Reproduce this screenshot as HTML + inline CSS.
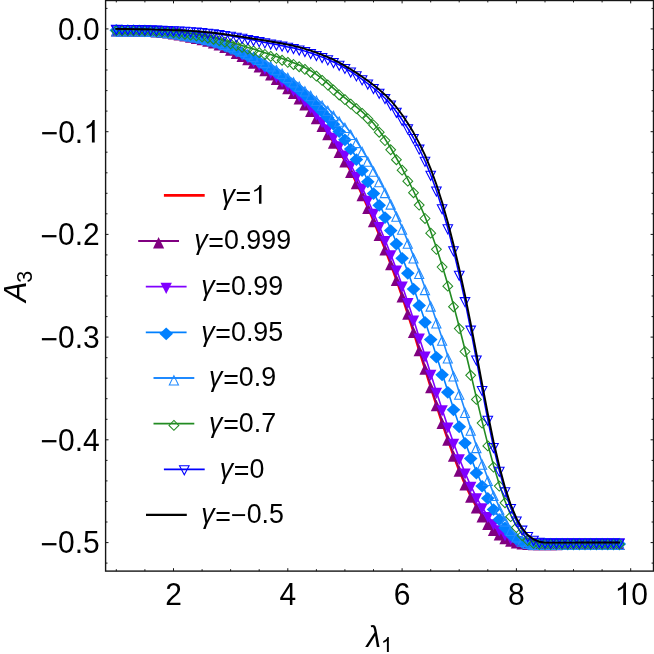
<!DOCTYPE html>
<html><head><meta charset="utf-8"><title>plot</title>
<style>html,body{margin:0;padding:0;background:#fff;overflow:hidden;}svg{display:block;will-change:transform;}text{font-family:"Liberation Sans",sans-serif;fill:#000;}</style></head><body>
<svg width="654" height="654" viewBox="0 0 654 654">
<rect x="0" y="0" width="654" height="654" fill="#ffffff"/>
<polyline points="116.3,29.0 122.1,29.0 127.8,29.0 133.5,29.1 139.2,29.2 144.9,29.3 150.6,29.5 156.4,29.9 162.1,30.4 167.8,31.1 173.5,31.9 179.2,32.9 184.9,34.0 190.6,35.2 196.4,36.5 202.1,37.8 207.8,39.2 213.5,41.0 219.2,43.1 224.9,45.6 230.6,48.4 236.4,51.5 242.1,54.7 247.8,57.9 253.5,61.4 259.2,65.0 264.9,69.0 270.7,73.2 276.4,77.7 282.1,82.2 287.8,86.9 293.5,91.8 299.2,97.2 304.9,103.2 310.7,109.9 316.4,117.2 322.1,125.0 327.8,133.2 333.5,141.9 339.2,151.0 344.9,160.7 350.7,171.1 356.4,182.4 362.1,194.4 367.8,207.2 373.5,220.6 379.2,234.4 385.0,248.8 390.7,263.8 396.4,279.5 402.1,296.1 407.8,313.5 413.5,331.5 419.2,350.0 425.0,368.5 430.7,386.9 436.4,404.9 442.1,422.5 447.8,439.4 453.5,455.3 459.2,470.2 465.0,483.9 470.7,496.0 476.4,506.5 482.1,515.4 487.8,522.7 493.5,528.6 499.3,533.3 505.0,536.8 510.7,539.4 516.4,541.1 522.1,542.0 527.8,542.5 533.5,542.6 539.3,542.6 545.0,542.6 550.7,542.6 556.4,542.5 562.1,542.5 567.8,542.5 573.5,542.5 579.3,542.5 585.0,542.5 590.7,542.5 596.4,542.5 602.1,542.5 607.8,542.5 613.6,542.5 619.3,542.5" fill="none" stroke="#ff0000" stroke-width="2.6" stroke-linejoin="round" stroke-linecap="square"/>
<polyline points="116.3,28.9 122.1,29.0 127.8,29.0 133.5,29.1 139.2,29.1 144.9,29.3 150.6,29.5 156.4,29.9 162.1,30.4 167.8,31.0 173.5,31.9 179.2,32.8 184.9,33.9 190.6,35.1 196.4,36.4 202.1,37.7 207.8,39.1 213.5,40.8 219.2,42.9 224.9,45.4 230.6,48.2 236.4,51.3 242.1,54.4 247.8,57.7 253.5,61.1 259.2,64.8 264.9,68.7 270.7,72.9 276.4,77.4 282.1,81.9 287.8,86.6 293.5,91.5 299.2,96.8 304.9,102.8 310.7,109.4 316.4,116.6 322.1,124.4 327.8,132.6 333.5,141.2 339.2,150.3 344.9,160.0 350.7,170.4 356.4,181.6 362.1,193.6 367.8,206.3 373.5,219.6 379.2,233.4 385.0,247.8 390.7,262.7 396.4,278.4 402.1,294.9 407.8,312.2 413.5,330.3 419.2,348.7 425.0,367.2 430.7,385.6 436.4,403.7 442.1,421.3 447.8,438.2 453.5,454.2 459.2,469.2 465.0,482.9 470.7,495.2 476.4,505.9 482.1,514.9 487.8,522.3 493.5,528.3 499.3,533.0 505.0,536.6 510.7,539.2 516.4,541.0 522.1,542.0 527.8,542.5 533.5,542.6 539.3,542.6 545.0,542.6 550.7,542.6 556.4,542.6 562.1,542.5 567.8,542.5 573.5,542.5 579.3,542.5 585.0,542.5 590.7,542.5 596.4,542.5 602.1,542.5 607.8,542.5 613.6,542.5 619.3,542.5" fill="none" stroke="#800080" stroke-width="1.6" stroke-linejoin="round" stroke-linecap="square"/>
<g><path d="M110.8,36.5L116.3,25.1L121.9,36.5Z" fill="#800080"/><path d="M116.5,36.6L122.1,25.1L127.7,36.6Z" fill="#800080"/><path d="M122.2,36.6L127.8,25.1L133.4,36.6Z" fill="#800080"/><path d="M127.9,36.7L133.5,25.2L139.1,36.7Z" fill="#800080"/><path d="M133.6,36.7L139.2,25.2L144.8,36.7Z" fill="#800080"/><path d="M139.3,36.9L144.9,25.4L150.5,36.9Z" fill="#800080"/><path d="M145.0,37.1L150.6,25.6L156.2,37.1Z" fill="#800080"/><path d="M150.8,37.5L156.4,26.0L162.0,37.5Z" fill="#800080"/><path d="M156.5,38.0L162.1,26.5L167.7,38.0Z" fill="#800080"/><path d="M162.2,38.6L167.8,27.1L173.4,38.6Z" fill="#800080"/><path d="M167.9,39.5L173.5,28.0L179.1,39.5Z" fill="#800080"/><path d="M173.6,40.4L179.2,28.9L184.8,40.4Z" fill="#800080"/><path d="M179.3,41.5L184.9,30.0L190.5,41.5Z" fill="#800080"/><path d="M185.0,42.7L190.6,31.2L196.2,42.7Z" fill="#800080"/><path d="M190.8,44.0L196.4,32.5L202.0,44.0Z" fill="#800080"/><path d="M196.5,45.3L202.1,33.8L207.7,45.3Z" fill="#800080"/><path d="M202.2,46.7L207.8,35.2L213.4,46.7Z" fill="#800080"/><path d="M207.9,48.4L213.5,36.9L219.1,48.4Z" fill="#800080"/><path d="M213.6,50.5L219.2,39.0L224.8,50.5Z" fill="#800080"/><path d="M219.3,53.0L224.9,41.5L230.5,53.0Z" fill="#800080"/><path d="M225.0,55.8L230.6,44.3L236.2,55.8Z" fill="#800080"/><path d="M230.8,58.9L236.4,47.4L242.0,58.9Z" fill="#800080"/><path d="M236.5,62.0L242.1,50.5L247.7,62.0Z" fill="#800080"/><path d="M242.2,65.3L247.8,53.8L253.4,65.3Z" fill="#800080"/><path d="M247.9,68.7L253.5,57.2L259.1,68.7Z" fill="#800080"/><path d="M253.6,72.4L259.2,60.9L264.8,72.4Z" fill="#800080"/><path d="M259.3,76.3L264.9,64.8L270.5,76.3Z" fill="#800080"/><path d="M265.1,80.5L270.7,69.0L276.3,80.5Z" fill="#800080"/><path d="M270.8,85.0L276.4,73.5L282.0,85.0Z" fill="#800080"/><path d="M276.5,89.5L282.1,78.0L287.7,89.5Z" fill="#800080"/><path d="M282.2,94.2L287.8,82.7L293.4,94.2Z" fill="#800080"/><path d="M287.9,99.1L293.5,87.6L299.1,99.1Z" fill="#800080"/><path d="M293.6,104.4L299.2,92.9L304.8,104.4Z" fill="#800080"/><path d="M299.3,110.4L304.9,98.9L310.5,110.4Z" fill="#800080"/><path d="M305.1,117.0L310.7,105.5L316.3,117.0Z" fill="#800080"/><path d="M310.8,124.2L316.4,112.7L322.0,124.2Z" fill="#800080"/><path d="M316.5,132.0L322.1,120.5L327.7,132.0Z" fill="#800080"/><path d="M322.2,140.2L327.8,128.7L333.4,140.2Z" fill="#800080"/><path d="M327.9,148.8L333.5,137.3L339.1,148.8Z" fill="#800080"/><path d="M333.6,157.9L339.2,146.4L344.8,157.9Z" fill="#800080"/><path d="M339.3,167.6L344.9,156.1L350.6,167.6Z" fill="#800080"/><path d="M345.1,178.0L350.7,166.5L356.3,178.0Z" fill="#800080"/><path d="M350.8,189.2L356.4,177.7L362.0,189.2Z" fill="#800080"/><path d="M356.5,201.2L362.1,189.7L367.7,201.2Z" fill="#800080"/><path d="M362.2,213.9L367.8,202.4L373.4,213.9Z" fill="#800080"/><path d="M367.9,227.2L373.5,215.7L379.1,227.2Z" fill="#800080"/><path d="M373.6,241.0L379.2,229.5L384.8,241.0Z" fill="#800080"/><path d="M379.4,255.4L385.0,243.9L390.6,255.4Z" fill="#800080"/><path d="M385.1,270.3L390.7,258.8L396.3,270.3Z" fill="#800080"/><path d="M390.8,286.0L396.4,274.5L402.0,286.0Z" fill="#800080"/><path d="M396.5,302.5L402.1,291.0L407.7,302.5Z" fill="#800080"/><path d="M402.2,319.8L407.8,308.3L413.4,319.8Z" fill="#800080"/><path d="M407.9,337.9L413.5,326.4L419.1,337.9Z" fill="#800080"/><path d="M413.6,356.3L419.2,344.8L424.8,356.3Z" fill="#800080"/><path d="M419.4,374.8L425.0,363.3L430.6,374.8Z" fill="#800080"/><path d="M425.1,393.2L430.7,381.7L436.3,393.2Z" fill="#800080"/><path d="M430.8,411.3L436.4,399.8L442.0,411.3Z" fill="#800080"/><path d="M436.5,428.9L442.1,417.4L447.7,428.9Z" fill="#800080"/><path d="M442.2,445.8L447.8,434.3L453.4,445.8Z" fill="#800080"/><path d="M447.9,461.8L453.5,450.3L459.1,461.8Z" fill="#800080"/><path d="M453.6,476.8L459.2,465.3L464.9,476.8Z" fill="#800080"/><path d="M459.4,490.5L465.0,479.0L470.6,490.5Z" fill="#800080"/><path d="M465.1,502.8L470.7,491.3L476.3,502.8Z" fill="#800080"/><path d="M470.8,513.5L476.4,502.0L482.0,513.5Z" fill="#800080"/><path d="M476.5,522.5L482.1,511.0L487.7,522.5Z" fill="#800080"/><path d="M482.2,529.9L487.8,518.4L493.4,529.9Z" fill="#800080"/><path d="M487.9,535.9L493.5,524.4L499.1,535.9Z" fill="#800080"/><path d="M493.7,540.6L499.3,529.1L504.9,540.6Z" fill="#800080"/><path d="M499.4,544.2L505.0,532.7L510.6,544.2Z" fill="#800080"/><path d="M505.1,546.8L510.7,535.3L516.3,546.8Z" fill="#800080"/><path d="M510.8,548.6L516.4,537.1L522.0,548.6Z" fill="#800080"/><path d="M516.5,549.6L522.1,538.1L527.7,549.6Z" fill="#800080"/><path d="M522.2,550.1L527.8,538.6L533.4,550.1Z" fill="#800080"/><path d="M527.9,550.2L533.5,538.7L539.1,550.2Z" fill="#800080"/><path d="M533.7,550.2L539.3,538.7L544.9,550.2Z" fill="#800080"/><path d="M539.4,550.2L545.0,538.7L550.6,550.2Z" fill="#800080"/><path d="M545.1,550.2L550.7,538.7L556.3,550.2Z" fill="#800080"/><path d="M550.8,550.2L556.4,538.7L562.0,550.2Z" fill="#800080"/><path d="M556.5,550.1L562.1,538.6L567.7,550.1Z" fill="#800080"/><path d="M562.2,550.1L567.8,538.6L573.4,550.1Z" fill="#800080"/><path d="M567.9,550.1L573.5,538.6L579.1,550.1Z" fill="#800080"/><path d="M573.7,550.1L579.3,538.6L584.9,550.1Z" fill="#800080"/><path d="M579.4,550.1L585.0,538.6L590.6,550.1Z" fill="#800080"/><path d="M585.1,550.1L590.7,538.6L596.3,550.1Z" fill="#800080"/><path d="M590.8,550.1L596.4,538.6L602.0,550.1Z" fill="#800080"/><path d="M596.5,550.1L602.1,538.6L607.7,550.1Z" fill="#800080"/><path d="M602.2,550.1L607.8,538.6L613.4,550.1Z" fill="#800080"/><path d="M608.0,550.1L613.6,538.6L619.2,550.1Z" fill="#800080"/><path d="M613.7,550.1L619.3,538.6L624.9,550.1Z" fill="#800080"/></g>
<polyline points="116.3,28.9 122.1,29.0 127.8,29.0 133.5,29.1 139.2,29.1 144.9,29.3 150.6,29.5 156.4,29.9 162.1,30.3 167.8,31.0 173.5,31.8 179.2,32.8 184.9,33.9 190.6,35.0 196.4,36.3 202.1,37.6 207.8,39.0 213.5,40.7 219.2,42.7 224.9,45.1 230.6,47.8 236.4,50.7 242.1,53.7 247.8,56.9 253.5,60.2 259.2,63.7 264.9,67.5 270.7,71.6 276.4,75.9 282.1,80.3 287.8,84.8 293.5,89.6 299.2,94.8 304.9,100.5 310.7,106.8 316.4,113.6 322.1,120.9 327.8,128.6 333.5,136.7 339.2,145.3 344.9,154.6 350.7,164.7 356.4,175.7 362.1,187.4 367.8,199.8 373.5,212.7 379.2,226.0 385.0,239.9 390.7,254.3 396.4,269.4 402.1,285.4 407.8,302.1 413.5,319.6 419.2,337.5 425.0,355.6 430.7,373.8 436.4,391.7 442.1,409.3 447.8,426.4 453.5,442.8 459.2,458.3 465.0,472.6 470.7,485.7 476.4,497.3 482.1,507.3 487.8,515.9 493.5,523.2 499.3,529.2 505.0,534.1 510.7,537.7 516.4,540.1 522.1,541.6 527.8,542.4 533.5,542.6 539.3,542.6 545.0,542.6 550.7,542.6 556.4,542.6 562.1,542.5 567.8,542.5 573.5,542.5 579.3,542.5 585.0,542.5 590.7,542.5 596.4,542.5 602.1,542.5 607.8,542.5 613.6,542.5 619.3,542.5" fill="none" stroke="#8000ff" stroke-width="1.6" stroke-linejoin="round" stroke-linecap="square"/>
<g><path d="M110.6,24.9L122.0,24.9L116.3,36.1Z" fill="#8000ff"/><path d="M116.4,25.0L127.8,25.0L122.1,36.2Z" fill="#8000ff"/><path d="M122.1,25.0L133.5,25.0L127.8,36.2Z" fill="#8000ff"/><path d="M127.8,25.1L139.2,25.1L133.5,36.3Z" fill="#8000ff"/><path d="M133.5,25.1L144.9,25.1L139.2,36.3Z" fill="#8000ff"/><path d="M139.2,25.3L150.6,25.3L144.9,36.5Z" fill="#8000ff"/><path d="M144.9,25.5L156.3,25.5L150.6,36.7Z" fill="#8000ff"/><path d="M150.7,25.9L162.1,25.9L156.4,37.1Z" fill="#8000ff"/><path d="M156.4,26.3L167.8,26.3L162.1,37.5Z" fill="#8000ff"/><path d="M162.1,27.0L173.5,27.0L167.8,38.2Z" fill="#8000ff"/><path d="M167.8,27.8L179.2,27.8L173.5,39.0Z" fill="#8000ff"/><path d="M173.5,28.8L184.9,28.8L179.2,40.0Z" fill="#8000ff"/><path d="M179.2,29.9L190.6,29.9L184.9,41.1Z" fill="#8000ff"/><path d="M184.9,31.0L196.3,31.0L190.6,42.2Z" fill="#8000ff"/><path d="M190.7,32.3L202.1,32.3L196.4,43.5Z" fill="#8000ff"/><path d="M196.4,33.6L207.8,33.6L202.1,44.8Z" fill="#8000ff"/><path d="M202.1,35.0L213.5,35.0L207.8,46.2Z" fill="#8000ff"/><path d="M207.8,36.7L219.2,36.7L213.5,47.9Z" fill="#8000ff"/><path d="M213.5,38.7L224.9,38.7L219.2,49.9Z" fill="#8000ff"/><path d="M219.2,41.1L230.6,41.1L224.9,52.3Z" fill="#8000ff"/><path d="M224.9,43.8L236.3,43.8L230.6,55.0Z" fill="#8000ff"/><path d="M230.7,46.7L242.1,46.7L236.4,57.9Z" fill="#8000ff"/><path d="M236.4,49.7L247.8,49.7L242.1,60.9Z" fill="#8000ff"/><path d="M242.1,52.9L253.5,52.9L247.8,64.1Z" fill="#8000ff"/><path d="M247.8,56.2L259.2,56.2L253.5,67.4Z" fill="#8000ff"/><path d="M253.5,59.7L264.9,59.7L259.2,70.9Z" fill="#8000ff"/><path d="M259.2,63.5L270.6,63.5L264.9,74.7Z" fill="#8000ff"/><path d="M265.0,67.6L276.4,67.6L270.7,78.8Z" fill="#8000ff"/><path d="M270.7,71.9L282.1,71.9L276.4,83.1Z" fill="#8000ff"/><path d="M276.4,76.3L287.8,76.3L282.1,87.5Z" fill="#8000ff"/><path d="M282.1,80.8L293.5,80.8L287.8,92.0Z" fill="#8000ff"/><path d="M287.8,85.6L299.2,85.6L293.5,96.8Z" fill="#8000ff"/><path d="M293.5,90.8L304.9,90.8L299.2,102.0Z" fill="#8000ff"/><path d="M299.2,96.5L310.6,96.5L304.9,107.7Z" fill="#8000ff"/><path d="M305.0,102.8L316.4,102.8L310.7,114.0Z" fill="#8000ff"/><path d="M310.7,109.6L322.1,109.6L316.4,120.8Z" fill="#8000ff"/><path d="M316.4,116.9L327.8,116.9L322.1,128.1Z" fill="#8000ff"/><path d="M322.1,124.6L333.5,124.6L327.8,135.8Z" fill="#8000ff"/><path d="M327.8,132.7L339.2,132.7L333.5,143.9Z" fill="#8000ff"/><path d="M333.5,141.3L344.9,141.3L339.2,152.5Z" fill="#8000ff"/><path d="M339.2,150.6L350.6,150.6L344.9,161.8Z" fill="#8000ff"/><path d="M345.0,160.7L356.4,160.7L350.7,171.9Z" fill="#8000ff"/><path d="M350.7,171.7L362.1,171.7L356.4,182.9Z" fill="#8000ff"/><path d="M356.4,183.4L367.8,183.4L362.1,194.6Z" fill="#8000ff"/><path d="M362.1,195.8L373.5,195.8L367.8,207.0Z" fill="#8000ff"/><path d="M367.8,208.7L379.2,208.7L373.5,219.9Z" fill="#8000ff"/><path d="M373.5,222.0L384.9,222.0L379.2,233.2Z" fill="#8000ff"/><path d="M379.3,235.9L390.7,235.9L385.0,247.1Z" fill="#8000ff"/><path d="M385.0,250.3L396.4,250.3L390.7,261.5Z" fill="#8000ff"/><path d="M390.7,265.4L402.1,265.4L396.4,276.6Z" fill="#8000ff"/><path d="M396.4,281.4L407.8,281.4L402.1,292.6Z" fill="#8000ff"/><path d="M402.1,298.1L413.5,298.1L407.8,309.3Z" fill="#8000ff"/><path d="M407.8,315.6L419.2,315.6L413.5,326.8Z" fill="#8000ff"/><path d="M413.5,333.5L424.9,333.5L419.2,344.7Z" fill="#8000ff"/><path d="M419.3,351.6L430.7,351.6L425.0,362.8Z" fill="#8000ff"/><path d="M425.0,369.8L436.4,369.8L430.7,381.0Z" fill="#8000ff"/><path d="M430.7,387.7L442.1,387.7L436.4,398.9Z" fill="#8000ff"/><path d="M436.4,405.3L447.8,405.3L442.1,416.5Z" fill="#8000ff"/><path d="M442.1,422.4L453.5,422.4L447.8,433.6Z" fill="#8000ff"/><path d="M447.8,438.8L459.2,438.8L453.5,450.0Z" fill="#8000ff"/><path d="M453.6,454.3L464.9,454.3L459.2,465.5Z" fill="#8000ff"/><path d="M459.3,468.6L470.7,468.6L465.0,479.8Z" fill="#8000ff"/><path d="M465.0,481.7L476.4,481.7L470.7,492.9Z" fill="#8000ff"/><path d="M470.7,493.3L482.1,493.3L476.4,504.5Z" fill="#8000ff"/><path d="M476.4,503.3L487.8,503.3L482.1,514.5Z" fill="#8000ff"/><path d="M482.1,511.9L493.5,511.9L487.8,523.1Z" fill="#8000ff"/><path d="M487.8,519.2L499.2,519.2L493.5,530.4Z" fill="#8000ff"/><path d="M493.6,525.2L505.0,525.2L499.3,536.4Z" fill="#8000ff"/><path d="M499.3,530.1L510.7,530.1L505.0,541.3Z" fill="#8000ff"/><path d="M505.0,533.7L516.4,533.7L510.7,544.9Z" fill="#8000ff"/><path d="M510.7,536.1L522.1,536.1L516.4,547.3Z" fill="#8000ff"/><path d="M516.4,537.6L527.8,537.6L522.1,548.8Z" fill="#8000ff"/><path d="M522.1,538.4L533.5,538.4L527.8,549.6Z" fill="#8000ff"/><path d="M527.8,538.6L539.2,538.6L533.5,549.8Z" fill="#8000ff"/><path d="M533.6,538.6L545.0,538.6L539.3,549.8Z" fill="#8000ff"/><path d="M539.3,538.6L550.7,538.6L545.0,549.8Z" fill="#8000ff"/><path d="M545.0,538.6L556.4,538.6L550.7,549.8Z" fill="#8000ff"/><path d="M550.7,538.6L562.1,538.6L556.4,549.8Z" fill="#8000ff"/><path d="M556.4,538.5L567.8,538.5L562.1,549.7Z" fill="#8000ff"/><path d="M562.1,538.5L573.5,538.5L567.8,549.7Z" fill="#8000ff"/><path d="M567.8,538.5L579.2,538.5L573.5,549.7Z" fill="#8000ff"/><path d="M573.6,538.5L585.0,538.5L579.3,549.7Z" fill="#8000ff"/><path d="M579.3,538.5L590.7,538.5L585.0,549.7Z" fill="#8000ff"/><path d="M585.0,538.5L596.4,538.5L590.7,549.7Z" fill="#8000ff"/><path d="M590.7,538.5L602.1,538.5L596.4,549.7Z" fill="#8000ff"/><path d="M596.4,538.5L607.8,538.5L602.1,549.7Z" fill="#8000ff"/><path d="M602.1,538.5L613.5,538.5L607.8,549.7Z" fill="#8000ff"/><path d="M607.9,538.5L619.3,538.5L613.6,549.7Z" fill="#8000ff"/><path d="M613.6,538.5L625.0,538.5L619.3,549.7Z" fill="#8000ff"/></g>
<polyline points="116.3,28.9 122.1,29.0 127.8,29.0 133.5,29.1 139.2,29.2 144.9,29.3 150.6,29.5 156.4,29.8 162.1,30.2 167.8,30.9 173.5,31.6 179.2,32.6 184.9,33.7 190.6,34.8 196.4,36.0 202.1,37.3 207.8,38.6 213.5,40.2 219.2,42.1 224.9,44.2 230.6,46.5 236.4,49.0 242.1,51.6 247.8,54.4 253.5,57.4 259.2,60.6 264.9,64.0 270.7,67.6 276.4,71.3 282.1,75.3 287.8,79.5 293.5,83.9 299.2,88.6 304.9,93.6 310.7,98.9 316.4,104.5 322.1,110.3 327.8,116.4 333.5,122.9 339.2,130.2 344.9,138.4 350.7,147.7 356.4,158.0 362.1,169.0 367.8,180.4 373.5,192.1 379.2,203.9 385.0,216.1 390.7,229.0 396.4,242.5 402.1,256.8 407.8,271.9 413.5,287.6 419.2,304.0 425.0,320.9 430.7,338.2 436.4,355.7 442.1,373.3 447.8,390.9 453.5,408.4 459.2,425.4 465.0,441.7 470.7,457.1 476.4,471.5 482.1,484.7 487.8,496.9 493.5,508.1 499.3,518.0 505.0,526.4 510.7,533.0 516.4,537.6 522.1,540.5 527.8,542.1 533.5,542.6 539.3,542.6 545.0,542.6 550.7,542.6 556.4,542.6 562.1,542.5 567.8,542.5 573.5,542.5 579.3,542.5 585.0,542.5 590.7,542.5 596.4,542.5 602.1,542.5 607.8,542.5 613.6,542.5 619.3,542.5" fill="none" stroke="#0080ff" stroke-width="1.6" stroke-linejoin="round" stroke-linecap="square"/>
<g><path d="M116.3,24.1L123.1,30.3L116.3,36.9L109.5,30.3Z" fill="#0080ff"/><path d="M122.1,24.2L128.9,30.4L122.1,36.9L115.3,30.4Z" fill="#0080ff"/><path d="M127.8,24.2L134.6,30.4L127.8,36.9L121.0,30.4Z" fill="#0080ff"/><path d="M133.5,24.3L140.3,30.5L133.5,37.0L126.7,30.5Z" fill="#0080ff"/><path d="M139.2,24.4L146.0,30.6L139.2,37.1L132.4,30.6Z" fill="#0080ff"/><path d="M144.9,24.5L151.7,30.7L144.9,37.2L138.1,30.7Z" fill="#0080ff"/><path d="M150.6,24.7L157.4,30.9L150.6,37.4L143.8,30.9Z" fill="#0080ff"/><path d="M156.4,25.0L163.2,31.2L156.4,37.7L149.6,31.2Z" fill="#0080ff"/><path d="M162.1,25.4L168.9,31.6L162.1,38.1L155.3,31.6Z" fill="#0080ff"/><path d="M167.8,26.1L174.6,32.3L167.8,38.8L161.0,32.3Z" fill="#0080ff"/><path d="M173.5,26.8L180.3,33.0L173.5,39.5L166.7,33.0Z" fill="#0080ff"/><path d="M179.2,27.8L186.0,34.0L179.2,40.5L172.4,34.0Z" fill="#0080ff"/><path d="M184.9,28.9L191.7,35.1L184.9,41.6L178.1,35.1Z" fill="#0080ff"/><path d="M190.6,30.0L197.4,36.2L190.6,42.7L183.8,36.2Z" fill="#0080ff"/><path d="M196.4,31.2L203.2,37.4L196.4,43.9L189.6,37.4Z" fill="#0080ff"/><path d="M202.1,32.5L208.9,38.7L202.1,45.2L195.3,38.7Z" fill="#0080ff"/><path d="M207.8,33.8L214.6,40.0L207.8,46.5L201.0,40.0Z" fill="#0080ff"/><path d="M213.5,35.4L220.3,41.6L213.5,48.1L206.7,41.6Z" fill="#0080ff"/><path d="M219.2,37.3L226.0,43.5L219.2,50.0L212.4,43.5Z" fill="#0080ff"/><path d="M224.9,39.4L231.7,45.6L224.9,52.1L218.1,45.6Z" fill="#0080ff"/><path d="M230.6,41.7L237.4,47.9L230.6,54.4L223.8,47.9Z" fill="#0080ff"/><path d="M236.4,44.2L243.2,50.4L236.4,56.9L229.6,50.4Z" fill="#0080ff"/><path d="M242.1,46.8L248.9,53.0L242.1,59.5L235.3,53.0Z" fill="#0080ff"/><path d="M247.8,49.6L254.6,55.8L247.8,62.3L241.0,55.8Z" fill="#0080ff"/><path d="M253.5,52.6L260.3,58.8L253.5,65.3L246.7,58.8Z" fill="#0080ff"/><path d="M259.2,55.8L266.0,62.0L259.2,68.5L252.4,62.0Z" fill="#0080ff"/><path d="M264.9,59.2L271.7,65.4L264.9,71.9L258.1,65.4Z" fill="#0080ff"/><path d="M270.7,62.8L277.5,69.0L270.7,75.5L263.9,69.0Z" fill="#0080ff"/><path d="M276.4,66.5L283.2,72.7L276.4,79.2L269.6,72.7Z" fill="#0080ff"/><path d="M282.1,70.5L288.9,76.7L282.1,83.2L275.3,76.7Z" fill="#0080ff"/><path d="M287.8,74.7L294.6,80.9L287.8,87.4L281.0,80.9Z" fill="#0080ff"/><path d="M293.5,79.1L300.3,85.3L293.5,91.8L286.7,85.3Z" fill="#0080ff"/><path d="M299.2,83.8L306.0,90.0L299.2,96.5L292.4,90.0Z" fill="#0080ff"/><path d="M304.9,88.8L311.7,95.0L304.9,101.5L298.1,95.0Z" fill="#0080ff"/><path d="M310.7,94.1L317.5,100.3L310.7,106.8L303.9,100.3Z" fill="#0080ff"/><path d="M316.4,99.7L323.2,105.9L316.4,112.4L309.6,105.9Z" fill="#0080ff"/><path d="M322.1,105.5L328.9,111.7L322.1,118.2L315.3,111.7Z" fill="#0080ff"/><path d="M327.8,111.6L334.6,117.8L327.8,124.3L321.0,117.8Z" fill="#0080ff"/><path d="M333.5,118.1L340.3,124.3L333.5,130.8L326.7,124.3Z" fill="#0080ff"/><path d="M339.2,125.4L346.0,131.6L339.2,138.1L332.4,131.6Z" fill="#0080ff"/><path d="M344.9,133.6L351.8,139.8L344.9,146.3L338.1,139.8Z" fill="#0080ff"/><path d="M350.7,142.9L357.5,149.1L350.7,155.6L343.9,149.1Z" fill="#0080ff"/><path d="M356.4,153.2L363.2,159.4L356.4,165.9L349.6,159.4Z" fill="#0080ff"/><path d="M362.1,164.2L368.9,170.4L362.1,176.9L355.3,170.4Z" fill="#0080ff"/><path d="M367.8,175.6L374.6,181.8L367.8,188.3L361.0,181.8Z" fill="#0080ff"/><path d="M373.5,187.3L380.3,193.5L373.5,200.0L366.7,193.5Z" fill="#0080ff"/><path d="M379.2,199.1L386.0,205.3L379.2,211.8L372.4,205.3Z" fill="#0080ff"/><path d="M385.0,211.3L391.8,217.5L385.0,224.0L378.2,217.5Z" fill="#0080ff"/><path d="M390.7,224.2L397.5,230.4L390.7,236.9L383.9,230.4Z" fill="#0080ff"/><path d="M396.4,237.7L403.2,243.9L396.4,250.4L389.6,243.9Z" fill="#0080ff"/><path d="M402.1,252.0L408.9,258.2L402.1,264.7L395.3,258.2Z" fill="#0080ff"/><path d="M407.8,267.1L414.6,273.3L407.8,279.8L401.0,273.3Z" fill="#0080ff"/><path d="M413.5,282.8L420.3,289.0L413.5,295.5L406.7,289.0Z" fill="#0080ff"/><path d="M419.2,299.2L426.0,305.4L419.2,311.9L412.4,305.4Z" fill="#0080ff"/><path d="M425.0,316.1L431.8,322.3L425.0,328.8L418.2,322.3Z" fill="#0080ff"/><path d="M430.7,333.4L437.5,339.6L430.7,346.1L423.9,339.6Z" fill="#0080ff"/><path d="M436.4,350.9L443.2,357.1L436.4,363.6L429.6,357.1Z" fill="#0080ff"/><path d="M442.1,368.5L448.9,374.7L442.1,381.2L435.3,374.7Z" fill="#0080ff"/><path d="M447.8,386.1L454.6,392.3L447.8,398.8L441.0,392.3Z" fill="#0080ff"/><path d="M453.5,403.6L460.3,409.8L453.5,416.3L446.7,409.8Z" fill="#0080ff"/><path d="M459.2,420.6L466.1,426.8L459.2,433.3L452.4,426.8Z" fill="#0080ff"/><path d="M465.0,436.9L471.8,443.1L465.0,449.6L458.2,443.1Z" fill="#0080ff"/><path d="M470.7,452.3L477.5,458.5L470.7,465.0L463.9,458.5Z" fill="#0080ff"/><path d="M476.4,466.7L483.2,472.9L476.4,479.4L469.6,472.9Z" fill="#0080ff"/><path d="M482.1,479.9L488.9,486.1L482.1,492.6L475.3,486.1Z" fill="#0080ff"/><path d="M487.8,492.1L494.6,498.3L487.8,504.8L481.0,498.3Z" fill="#0080ff"/><path d="M493.5,503.3L500.3,509.5L493.5,516.0L486.7,509.5Z" fill="#0080ff"/><path d="M499.3,513.2L506.1,519.4L499.3,525.9L492.5,519.4Z" fill="#0080ff"/><path d="M505.0,521.6L511.8,527.8L505.0,534.3L498.2,527.8Z" fill="#0080ff"/><path d="M510.7,528.2L517.5,534.4L510.7,540.9L503.9,534.4Z" fill="#0080ff"/><path d="M516.4,532.8L523.2,539.0L516.4,545.5L509.6,539.0Z" fill="#0080ff"/><path d="M522.1,535.7L528.9,541.9L522.1,548.4L515.3,541.9Z" fill="#0080ff"/><path d="M527.8,537.3L534.6,543.5L527.8,550.0L521.0,543.5Z" fill="#0080ff"/><path d="M533.5,537.8L540.3,544.0L533.5,550.5L526.7,544.0Z" fill="#0080ff"/><path d="M539.3,537.8L546.1,544.0L539.3,550.5L532.5,544.0Z" fill="#0080ff"/><path d="M545.0,537.8L551.8,544.0L545.0,550.5L538.2,544.0Z" fill="#0080ff"/><path d="M550.7,537.8L557.5,544.0L550.7,550.5L543.9,544.0Z" fill="#0080ff"/><path d="M556.4,537.8L563.2,544.0L556.4,550.5L549.6,544.0Z" fill="#0080ff"/><path d="M562.1,537.7L568.9,543.9L562.1,550.4L555.3,543.9Z" fill="#0080ff"/><path d="M567.8,537.7L574.6,543.9L567.8,550.4L561.0,543.9Z" fill="#0080ff"/><path d="M573.5,537.7L580.3,543.9L573.5,550.4L566.8,543.9Z" fill="#0080ff"/><path d="M579.3,537.7L586.1,543.9L579.3,550.4L572.5,543.9Z" fill="#0080ff"/><path d="M585.0,537.7L591.8,543.9L585.0,550.4L578.2,543.9Z" fill="#0080ff"/><path d="M590.7,537.7L597.5,543.9L590.7,550.4L583.9,543.9Z" fill="#0080ff"/><path d="M596.4,537.7L603.2,543.9L596.4,550.4L589.6,543.9Z" fill="#0080ff"/><path d="M602.1,537.7L608.9,543.9L602.1,550.4L595.3,543.9Z" fill="#0080ff"/><path d="M607.8,537.7L614.6,543.9L607.8,550.4L601.0,543.9Z" fill="#0080ff"/><path d="M613.6,537.7L620.4,543.9L613.6,550.4L606.8,543.9Z" fill="#0080ff"/><path d="M619.3,537.7L626.1,543.9L619.3,550.4L612.5,543.9Z" fill="#0080ff"/></g>
<polyline points="116.3,28.9 122.1,29.0 127.8,29.0 133.5,29.0 139.2,29.1 144.9,29.2 150.6,29.4 156.4,29.7 162.1,30.1 167.8,30.7 173.5,31.4 179.2,32.2 184.9,33.2 190.6,34.2 196.4,35.2 202.1,36.4 207.8,37.7 213.5,39.1 219.2,40.8 224.9,42.7 230.6,44.8 236.4,47.1 242.1,49.4 247.8,52.0 253.5,54.7 259.2,57.6 264.9,60.7 270.7,64.1 276.4,67.8 282.1,71.6 287.8,75.7 293.5,80.0 299.2,84.4 304.9,89.0 310.7,93.7 316.4,98.5 322.1,103.4 327.8,108.5 333.5,113.7 339.2,119.3 344.9,125.5 350.7,132.6 356.4,140.7 362.1,149.7 367.8,159.3 373.5,169.4 379.2,179.9 385.0,190.7 390.7,202.2 396.4,214.4 402.1,227.4 407.8,241.4 413.5,256.1 419.2,271.6 425.0,287.7 430.7,304.2 436.4,321.0 442.1,338.3 447.8,356.0 453.5,374.0 459.2,392.3 465.0,410.5 470.7,428.3 476.4,445.7 482.1,462.4 487.8,478.5 493.5,493.6 499.3,507.4 505.0,519.2 510.7,528.5 516.4,535.1 522.1,539.3 527.8,541.6 533.5,542.6 539.3,542.6 545.0,542.6 550.7,542.6 556.4,542.6 562.1,542.5 567.8,542.5 573.5,542.5 579.3,542.5 585.0,542.5 590.7,542.5 596.4,542.5 602.1,542.5 607.8,542.5 613.6,542.5 619.3,542.5" fill="none" stroke="#1f8aff" stroke-width="1.6" stroke-linejoin="round" stroke-linecap="square"/>
<g><path d="M111.8,35.9L116.3,26.6L120.9,35.9Z" fill="none" stroke="#1f8aff" stroke-width="1.05"/><path d="M117.5,35.9L122.1,26.6L126.7,35.9Z" fill="none" stroke="#1f8aff" stroke-width="1.05"/><path d="M123.2,35.9L127.8,26.6L132.4,35.9Z" fill="none" stroke="#1f8aff" stroke-width="1.05"/><path d="M128.9,35.9L133.5,26.6L138.1,35.9Z" fill="none" stroke="#1f8aff" stroke-width="1.05"/><path d="M134.6,36.0L139.2,26.7L143.8,36.0Z" fill="none" stroke="#1f8aff" stroke-width="1.05"/><path d="M140.3,36.1L144.9,26.8L149.5,36.1Z" fill="none" stroke="#1f8aff" stroke-width="1.05"/><path d="M146.0,36.3L150.6,27.0L155.2,36.3Z" fill="none" stroke="#1f8aff" stroke-width="1.05"/><path d="M151.8,36.6L156.4,27.3L161.0,36.6Z" fill="none" stroke="#1f8aff" stroke-width="1.05"/><path d="M157.5,37.0L162.1,27.7L166.7,37.0Z" fill="none" stroke="#1f8aff" stroke-width="1.05"/><path d="M163.2,37.6L167.8,28.3L172.4,37.6Z" fill="none" stroke="#1f8aff" stroke-width="1.05"/><path d="M168.9,38.3L173.5,29.0L178.1,38.3Z" fill="none" stroke="#1f8aff" stroke-width="1.05"/><path d="M174.6,39.1L179.2,29.8L183.8,39.1Z" fill="none" stroke="#1f8aff" stroke-width="1.05"/><path d="M180.3,40.1L184.9,30.8L189.5,40.1Z" fill="none" stroke="#1f8aff" stroke-width="1.05"/><path d="M186.0,41.1L190.6,31.8L195.2,41.1Z" fill="none" stroke="#1f8aff" stroke-width="1.05"/><path d="M191.8,42.1L196.4,32.8L201.0,42.1Z" fill="none" stroke="#1f8aff" stroke-width="1.05"/><path d="M197.5,43.3L202.1,34.0L206.7,43.3Z" fill="none" stroke="#1f8aff" stroke-width="1.05"/><path d="M203.2,44.6L207.8,35.3L212.4,44.6Z" fill="none" stroke="#1f8aff" stroke-width="1.05"/><path d="M208.9,46.0L213.5,36.7L218.1,46.0Z" fill="none" stroke="#1f8aff" stroke-width="1.05"/><path d="M214.6,47.7L219.2,38.4L223.8,47.7Z" fill="none" stroke="#1f8aff" stroke-width="1.05"/><path d="M220.3,49.6L224.9,40.3L229.5,49.6Z" fill="none" stroke="#1f8aff" stroke-width="1.05"/><path d="M226.0,51.7L230.6,42.4L235.2,51.7Z" fill="none" stroke="#1f8aff" stroke-width="1.05"/><path d="M231.8,54.0L236.4,44.7L241.0,54.0Z" fill="none" stroke="#1f8aff" stroke-width="1.05"/><path d="M237.5,56.3L242.1,47.0L246.7,56.3Z" fill="none" stroke="#1f8aff" stroke-width="1.05"/><path d="M243.2,58.9L247.8,49.6L252.4,58.9Z" fill="none" stroke="#1f8aff" stroke-width="1.05"/><path d="M248.9,61.6L253.5,52.3L258.1,61.6Z" fill="none" stroke="#1f8aff" stroke-width="1.05"/><path d="M254.6,64.5L259.2,55.2L263.8,64.5Z" fill="none" stroke="#1f8aff" stroke-width="1.05"/><path d="M260.3,67.6L264.9,58.3L269.5,67.6Z" fill="none" stroke="#1f8aff" stroke-width="1.05"/><path d="M266.1,71.0L270.7,61.7L275.3,71.0Z" fill="none" stroke="#1f8aff" stroke-width="1.05"/><path d="M271.8,74.7L276.4,65.4L281.0,74.7Z" fill="none" stroke="#1f8aff" stroke-width="1.05"/><path d="M277.5,78.5L282.1,69.2L286.7,78.5Z" fill="none" stroke="#1f8aff" stroke-width="1.05"/><path d="M283.2,82.6L287.8,73.3L292.4,82.6Z" fill="none" stroke="#1f8aff" stroke-width="1.05"/><path d="M288.9,86.9L293.5,77.6L298.1,86.9Z" fill="none" stroke="#1f8aff" stroke-width="1.05"/><path d="M294.6,91.3L299.2,82.0L303.8,91.3Z" fill="none" stroke="#1f8aff" stroke-width="1.05"/><path d="M300.3,95.9L304.9,86.6L309.5,95.9Z" fill="none" stroke="#1f8aff" stroke-width="1.05"/><path d="M306.1,100.6L310.7,91.3L315.3,100.6Z" fill="none" stroke="#1f8aff" stroke-width="1.05"/><path d="M311.8,105.4L316.4,96.1L321.0,105.4Z" fill="none" stroke="#1f8aff" stroke-width="1.05"/><path d="M317.5,110.3L322.1,101.0L326.7,110.3Z" fill="none" stroke="#1f8aff" stroke-width="1.05"/><path d="M323.2,115.4L327.8,106.1L332.4,115.4Z" fill="none" stroke="#1f8aff" stroke-width="1.05"/><path d="M328.9,120.6L333.5,111.3L338.1,120.6Z" fill="none" stroke="#1f8aff" stroke-width="1.05"/><path d="M334.6,126.2L339.2,116.9L343.8,126.2Z" fill="none" stroke="#1f8aff" stroke-width="1.05"/><path d="M340.3,132.4L344.9,123.1L349.6,132.4Z" fill="none" stroke="#1f8aff" stroke-width="1.05"/><path d="M346.1,139.5L350.7,130.2L355.3,139.5Z" fill="none" stroke="#1f8aff" stroke-width="1.05"/><path d="M351.8,147.6L356.4,138.3L361.0,147.6Z" fill="none" stroke="#1f8aff" stroke-width="1.05"/><path d="M357.5,156.6L362.1,147.3L366.7,156.6Z" fill="none" stroke="#1f8aff" stroke-width="1.05"/><path d="M363.2,166.2L367.8,156.9L372.4,166.2Z" fill="none" stroke="#1f8aff" stroke-width="1.05"/><path d="M368.9,176.3L373.5,167.0L378.1,176.3Z" fill="none" stroke="#1f8aff" stroke-width="1.05"/><path d="M374.6,186.8L379.2,177.5L383.8,186.8Z" fill="none" stroke="#1f8aff" stroke-width="1.05"/><path d="M380.4,197.6L385.0,188.3L389.6,197.6Z" fill="none" stroke="#1f8aff" stroke-width="1.05"/><path d="M386.1,209.1L390.7,199.8L395.3,209.1Z" fill="none" stroke="#1f8aff" stroke-width="1.05"/><path d="M391.8,221.3L396.4,212.0L401.0,221.3Z" fill="none" stroke="#1f8aff" stroke-width="1.05"/><path d="M397.5,234.3L402.1,225.0L406.7,234.3Z" fill="none" stroke="#1f8aff" stroke-width="1.05"/><path d="M403.2,248.3L407.8,239.0L412.4,248.3Z" fill="none" stroke="#1f8aff" stroke-width="1.05"/><path d="M408.9,263.0L413.5,253.7L418.1,263.0Z" fill="none" stroke="#1f8aff" stroke-width="1.05"/><path d="M414.6,278.5L419.2,269.2L423.8,278.5Z" fill="none" stroke="#1f8aff" stroke-width="1.05"/><path d="M420.4,294.6L425.0,285.3L429.6,294.6Z" fill="none" stroke="#1f8aff" stroke-width="1.05"/><path d="M426.1,311.1L430.7,301.8L435.3,311.1Z" fill="none" stroke="#1f8aff" stroke-width="1.05"/><path d="M431.8,327.9L436.4,318.6L441.0,327.9Z" fill="none" stroke="#1f8aff" stroke-width="1.05"/><path d="M437.5,345.2L442.1,335.9L446.7,345.2Z" fill="none" stroke="#1f8aff" stroke-width="1.05"/><path d="M443.2,362.9L447.8,353.6L452.4,362.9Z" fill="none" stroke="#1f8aff" stroke-width="1.05"/><path d="M448.9,380.9L453.5,371.6L458.1,380.9Z" fill="none" stroke="#1f8aff" stroke-width="1.05"/><path d="M454.6,399.2L459.2,389.9L463.9,399.2Z" fill="none" stroke="#1f8aff" stroke-width="1.05"/><path d="M460.4,417.4L465.0,408.1L469.6,417.4Z" fill="none" stroke="#1f8aff" stroke-width="1.05"/><path d="M466.1,435.2L470.7,425.9L475.3,435.2Z" fill="none" stroke="#1f8aff" stroke-width="1.05"/><path d="M471.8,452.6L476.4,443.3L481.0,452.6Z" fill="none" stroke="#1f8aff" stroke-width="1.05"/><path d="M477.5,469.3L482.1,460.0L486.7,469.3Z" fill="none" stroke="#1f8aff" stroke-width="1.05"/><path d="M483.2,485.4L487.8,476.1L492.4,485.4Z" fill="none" stroke="#1f8aff" stroke-width="1.05"/><path d="M488.9,500.5L493.5,491.2L498.1,500.5Z" fill="none" stroke="#1f8aff" stroke-width="1.05"/><path d="M494.7,514.3L499.3,505.0L503.9,514.3Z" fill="none" stroke="#1f8aff" stroke-width="1.05"/><path d="M500.4,526.1L505.0,516.8L509.6,526.1Z" fill="none" stroke="#1f8aff" stroke-width="1.05"/><path d="M506.1,535.4L510.7,526.1L515.3,535.4Z" fill="none" stroke="#1f8aff" stroke-width="1.05"/><path d="M511.8,542.0L516.4,532.7L521.0,542.0Z" fill="none" stroke="#1f8aff" stroke-width="1.05"/><path d="M517.5,546.2L522.1,536.9L526.7,546.2Z" fill="none" stroke="#1f8aff" stroke-width="1.05"/><path d="M523.2,548.5L527.8,539.2L532.4,548.5Z" fill="none" stroke="#1f8aff" stroke-width="1.05"/><path d="M528.9,549.5L533.5,540.2L538.1,549.5Z" fill="none" stroke="#1f8aff" stroke-width="1.05"/><path d="M534.7,549.5L539.3,540.2L543.9,549.5Z" fill="none" stroke="#1f8aff" stroke-width="1.05"/><path d="M540.4,549.5L545.0,540.2L549.6,549.5Z" fill="none" stroke="#1f8aff" stroke-width="1.05"/><path d="M546.1,549.5L550.7,540.2L555.3,549.5Z" fill="none" stroke="#1f8aff" stroke-width="1.05"/><path d="M551.8,549.5L556.4,540.2L561.0,549.5Z" fill="none" stroke="#1f8aff" stroke-width="1.05"/><path d="M557.5,549.4L562.1,540.1L566.7,549.4Z" fill="none" stroke="#1f8aff" stroke-width="1.05"/><path d="M563.2,549.4L567.8,540.1L572.4,549.4Z" fill="none" stroke="#1f8aff" stroke-width="1.05"/><path d="M568.9,549.4L573.5,540.1L578.1,549.4Z" fill="none" stroke="#1f8aff" stroke-width="1.05"/><path d="M574.7,549.4L579.3,540.1L583.9,549.4Z" fill="none" stroke="#1f8aff" stroke-width="1.05"/><path d="M580.4,549.4L585.0,540.1L589.6,549.4Z" fill="none" stroke="#1f8aff" stroke-width="1.05"/><path d="M586.1,549.4L590.7,540.1L595.3,549.4Z" fill="none" stroke="#1f8aff" stroke-width="1.05"/><path d="M591.8,549.4L596.4,540.1L601.0,549.4Z" fill="none" stroke="#1f8aff" stroke-width="1.05"/><path d="M597.5,549.4L602.1,540.1L606.7,549.4Z" fill="none" stroke="#1f8aff" stroke-width="1.05"/><path d="M603.2,549.4L607.8,540.1L612.4,549.4Z" fill="none" stroke="#1f8aff" stroke-width="1.05"/><path d="M609.0,549.4L613.6,540.1L618.2,549.4Z" fill="none" stroke="#1f8aff" stroke-width="1.05"/><path d="M614.7,549.4L619.3,540.1L623.9,549.4Z" fill="none" stroke="#1f8aff" stroke-width="1.05"/></g>
<polyline points="116.3,28.9 122.1,29.0 127.8,29.0 133.5,29.0 139.2,29.1 144.9,29.2 150.6,29.4 156.4,29.7 162.1,30.1 167.8,30.6 173.5,31.1 179.2,31.8 184.9,32.5 190.6,33.3 196.4,34.1 202.1,35.1 207.8,36.2 213.5,37.5 219.2,38.9 224.9,40.4 230.6,42.1 236.4,43.8 242.1,45.6 247.8,47.4 253.5,49.1 259.2,50.9 264.9,52.7 270.7,54.6 276.4,56.6 282.1,58.5 287.8,60.6 293.5,62.7 299.2,65.0 304.9,67.6 310.7,70.7 316.4,74.4 322.1,78.6 327.8,83.3 333.5,88.3 339.2,93.2 344.9,97.9 350.7,102.4 356.4,106.9 362.1,111.6 367.8,117.0 373.5,123.2 379.2,130.5 385.0,138.8 390.7,148.0 396.4,158.0 402.1,168.4 407.8,179.4 413.5,191.0 419.2,203.3 425.0,216.7 430.7,231.4 436.4,247.6 442.1,265.3 447.8,284.4 453.5,305.0 459.2,326.8 465.0,349.8 470.7,373.5 476.4,397.6 482.1,421.4 487.8,444.1 493.5,465.3 499.3,484.4 505.0,501.0 510.7,514.9 516.4,525.9 522.1,533.8 527.8,538.8 533.5,541.6 539.3,542.6 545.0,542.6 550.7,542.6 556.4,542.6 562.1,542.6 567.8,542.5 573.5,542.5 579.3,542.5 585.0,542.5 590.7,542.5 596.4,542.5 602.1,542.5 607.8,542.5 613.6,542.5 619.3,542.5" fill="none" stroke="#228b22" stroke-width="1.6" stroke-linejoin="round" stroke-linecap="square"/>
<g><path d="M116.3,25.8L121.2,30.7L116.3,35.6L111.4,30.7Z" fill="none" stroke="#228b22" stroke-width="1.05"/><path d="M122.1,25.8L127.0,30.7L122.1,35.7L117.2,30.7Z" fill="none" stroke="#228b22" stroke-width="1.05"/><path d="M127.8,25.8L132.7,30.7L127.8,35.7L122.9,30.7Z" fill="none" stroke="#228b22" stroke-width="1.05"/><path d="M133.5,25.8L138.4,30.8L133.5,35.7L128.6,30.8Z" fill="none" stroke="#228b22" stroke-width="1.05"/><path d="M139.2,25.9L144.1,30.8L139.2,35.8L134.3,30.8Z" fill="none" stroke="#228b22" stroke-width="1.05"/><path d="M144.9,26.0L149.8,30.9L144.9,35.9L140.0,30.9Z" fill="none" stroke="#228b22" stroke-width="1.05"/><path d="M150.6,26.2L155.5,31.1L150.6,36.1L145.7,31.1Z" fill="none" stroke="#228b22" stroke-width="1.05"/><path d="M156.4,26.5L161.3,31.4L156.4,36.4L151.5,31.4Z" fill="none" stroke="#228b22" stroke-width="1.05"/><path d="M162.1,26.9L167.0,31.8L162.1,36.8L157.2,31.8Z" fill="none" stroke="#228b22" stroke-width="1.05"/><path d="M167.8,27.4L172.7,32.3L167.8,37.3L162.9,32.3Z" fill="none" stroke="#228b22" stroke-width="1.05"/><path d="M173.5,27.9L178.4,32.9L173.5,37.8L168.6,32.9Z" fill="none" stroke="#228b22" stroke-width="1.05"/><path d="M179.2,28.6L184.1,33.5L179.2,38.5L174.3,33.5Z" fill="none" stroke="#228b22" stroke-width="1.05"/><path d="M184.9,29.3L189.8,34.2L184.9,39.2L180.0,34.2Z" fill="none" stroke="#228b22" stroke-width="1.05"/><path d="M190.6,30.1L195.5,35.0L190.6,40.0L185.7,35.0Z" fill="none" stroke="#228b22" stroke-width="1.05"/><path d="M196.4,30.9L201.3,35.9L196.4,40.8L191.5,35.9Z" fill="none" stroke="#228b22" stroke-width="1.05"/><path d="M202.1,31.9L207.0,36.9L202.1,41.8L197.2,36.9Z" fill="none" stroke="#228b22" stroke-width="1.05"/><path d="M207.8,33.0L212.7,38.0L207.8,42.9L202.9,38.0Z" fill="none" stroke="#228b22" stroke-width="1.05"/><path d="M213.5,34.3L218.4,39.2L213.5,44.2L208.6,39.2Z" fill="none" stroke="#228b22" stroke-width="1.05"/><path d="M219.2,35.7L224.1,40.6L219.2,45.6L214.3,40.6Z" fill="none" stroke="#228b22" stroke-width="1.05"/><path d="M224.9,37.2L229.8,42.2L224.9,47.1L220.0,42.2Z" fill="none" stroke="#228b22" stroke-width="1.05"/><path d="M230.6,38.9L235.5,43.8L230.6,48.8L225.7,43.8Z" fill="none" stroke="#228b22" stroke-width="1.05"/><path d="M236.4,40.6L241.3,45.6L236.4,50.5L231.5,45.6Z" fill="none" stroke="#228b22" stroke-width="1.05"/><path d="M242.1,42.4L247.0,47.4L242.1,52.3L237.2,47.4Z" fill="none" stroke="#228b22" stroke-width="1.05"/><path d="M247.8,44.2L252.7,49.1L247.8,54.1L242.9,49.1Z" fill="none" stroke="#228b22" stroke-width="1.05"/><path d="M253.5,45.9L258.4,50.9L253.5,55.8L248.6,50.9Z" fill="none" stroke="#228b22" stroke-width="1.05"/><path d="M259.2,47.7L264.1,52.7L259.2,57.6L254.3,52.7Z" fill="none" stroke="#228b22" stroke-width="1.05"/><path d="M264.9,49.5L269.8,54.5L264.9,59.4L260.0,54.5Z" fill="none" stroke="#228b22" stroke-width="1.05"/><path d="M270.7,51.4L275.6,56.4L270.7,61.3L265.8,56.4Z" fill="none" stroke="#228b22" stroke-width="1.05"/><path d="M276.4,53.4L281.3,58.3L276.4,63.3L271.5,58.3Z" fill="none" stroke="#228b22" stroke-width="1.05"/><path d="M282.1,55.3L287.0,60.3L282.1,65.2L277.2,60.3Z" fill="none" stroke="#228b22" stroke-width="1.05"/><path d="M287.8,57.4L292.7,62.3L287.8,67.3L282.9,62.3Z" fill="none" stroke="#228b22" stroke-width="1.05"/><path d="M293.5,59.5L298.4,64.4L293.5,69.4L288.6,64.4Z" fill="none" stroke="#228b22" stroke-width="1.05"/><path d="M299.2,61.8L304.1,66.7L299.2,71.7L294.3,66.7Z" fill="none" stroke="#228b22" stroke-width="1.05"/><path d="M304.9,64.4L309.8,69.4L304.9,74.3L300.0,69.4Z" fill="none" stroke="#228b22" stroke-width="1.05"/><path d="M310.7,67.5L315.6,72.4L310.7,77.4L305.8,72.4Z" fill="none" stroke="#228b22" stroke-width="1.05"/><path d="M316.4,71.2L321.3,76.1L316.4,81.1L311.5,76.1Z" fill="none" stroke="#228b22" stroke-width="1.05"/><path d="M322.1,75.4L327.0,80.4L322.1,85.3L317.2,80.4Z" fill="none" stroke="#228b22" stroke-width="1.05"/><path d="M327.8,80.1L332.7,85.1L327.8,90.0L322.9,85.1Z" fill="none" stroke="#228b22" stroke-width="1.05"/><path d="M333.5,85.1L338.4,90.0L333.5,95.0L328.6,90.0Z" fill="none" stroke="#228b22" stroke-width="1.05"/><path d="M339.2,90.0L344.1,94.9L339.2,99.9L334.3,94.9Z" fill="none" stroke="#228b22" stroke-width="1.05"/><path d="M344.9,94.7L349.8,99.7L344.9,104.6L340.1,99.7Z" fill="none" stroke="#228b22" stroke-width="1.05"/><path d="M350.7,99.2L355.6,104.2L350.7,109.1L345.8,104.2Z" fill="none" stroke="#228b22" stroke-width="1.05"/><path d="M356.4,103.7L361.3,108.7L356.4,113.6L351.5,108.7Z" fill="none" stroke="#228b22" stroke-width="1.05"/><path d="M362.1,108.4L367.0,113.4L362.1,118.3L357.2,113.4Z" fill="none" stroke="#228b22" stroke-width="1.05"/><path d="M367.8,113.8L372.7,118.7L367.8,123.7L362.9,118.7Z" fill="none" stroke="#228b22" stroke-width="1.05"/><path d="M373.5,120.0L378.4,124.9L373.5,129.9L368.6,124.9Z" fill="none" stroke="#228b22" stroke-width="1.05"/><path d="M379.2,127.3L384.1,132.2L379.2,137.2L374.3,132.2Z" fill="none" stroke="#228b22" stroke-width="1.05"/><path d="M385.0,135.6L389.9,140.5L385.0,145.5L380.1,140.5Z" fill="none" stroke="#228b22" stroke-width="1.05"/><path d="M390.7,144.8L395.6,149.8L390.7,154.7L385.8,149.8Z" fill="none" stroke="#228b22" stroke-width="1.05"/><path d="M396.4,154.8L401.3,159.7L396.4,164.7L391.5,159.7Z" fill="none" stroke="#228b22" stroke-width="1.05"/><path d="M402.1,165.2L407.0,170.2L402.1,175.1L397.2,170.2Z" fill="none" stroke="#228b22" stroke-width="1.05"/><path d="M407.8,176.2L412.7,181.2L407.8,186.1L402.9,181.2Z" fill="none" stroke="#228b22" stroke-width="1.05"/><path d="M413.5,187.8L418.4,192.7L413.5,197.7L408.6,192.7Z" fill="none" stroke="#228b22" stroke-width="1.05"/><path d="M419.2,200.1L424.1,205.1L419.2,210.0L414.3,205.1Z" fill="none" stroke="#228b22" stroke-width="1.05"/><path d="M425.0,213.5L429.9,218.5L425.0,223.4L420.1,218.5Z" fill="none" stroke="#228b22" stroke-width="1.05"/><path d="M430.7,228.2L435.6,233.2L430.7,238.1L425.8,233.2Z" fill="none" stroke="#228b22" stroke-width="1.05"/><path d="M436.4,244.4L441.3,249.3L436.4,254.3L431.5,249.3Z" fill="none" stroke="#228b22" stroke-width="1.05"/><path d="M442.1,262.1L447.0,267.0L442.1,272.0L437.2,267.0Z" fill="none" stroke="#228b22" stroke-width="1.05"/><path d="M447.8,281.2L452.7,286.2L447.8,291.1L442.9,286.2Z" fill="none" stroke="#228b22" stroke-width="1.05"/><path d="M453.5,301.8L458.4,306.7L453.5,311.7L448.6,306.7Z" fill="none" stroke="#228b22" stroke-width="1.05"/><path d="M459.2,323.6L464.1,328.6L459.2,333.5L454.4,328.6Z" fill="none" stroke="#228b22" stroke-width="1.05"/><path d="M465.0,346.6L469.9,351.5L465.0,356.5L460.1,351.5Z" fill="none" stroke="#228b22" stroke-width="1.05"/><path d="M470.7,370.3L475.6,375.3L470.7,380.2L465.8,375.3Z" fill="none" stroke="#228b22" stroke-width="1.05"/><path d="M476.4,394.4L481.3,399.4L476.4,404.3L471.5,399.4Z" fill="none" stroke="#228b22" stroke-width="1.05"/><path d="M482.1,418.2L487.0,423.1L482.1,428.1L477.2,423.1Z" fill="none" stroke="#228b22" stroke-width="1.05"/><path d="M487.8,440.9L492.7,445.9L487.8,450.8L482.9,445.9Z" fill="none" stroke="#228b22" stroke-width="1.05"/><path d="M493.5,462.1L498.4,467.0L493.5,472.0L488.6,467.0Z" fill="none" stroke="#228b22" stroke-width="1.05"/><path d="M499.3,481.2L504.2,486.1L499.3,491.1L494.4,486.1Z" fill="none" stroke="#228b22" stroke-width="1.05"/><path d="M505.0,497.8L509.9,502.8L505.0,507.7L500.1,502.8Z" fill="none" stroke="#228b22" stroke-width="1.05"/><path d="M510.7,511.7L515.6,516.7L510.7,521.6L505.8,516.7Z" fill="none" stroke="#228b22" stroke-width="1.05"/><path d="M516.4,522.7L521.3,527.6L516.4,532.6L511.5,527.6Z" fill="none" stroke="#228b22" stroke-width="1.05"/><path d="M522.1,530.6L527.0,535.5L522.1,540.5L517.2,535.5Z" fill="none" stroke="#228b22" stroke-width="1.05"/><path d="M527.8,535.6L532.7,540.6L527.8,545.5L522.9,540.6Z" fill="none" stroke="#228b22" stroke-width="1.05"/><path d="M533.5,538.4L538.4,543.4L533.5,548.3L528.6,543.4Z" fill="none" stroke="#228b22" stroke-width="1.05"/><path d="M539.3,539.4L544.2,544.3L539.3,549.3L534.4,544.3Z" fill="none" stroke="#228b22" stroke-width="1.05"/><path d="M545.0,539.4L549.9,544.3L545.0,549.3L540.1,544.3Z" fill="none" stroke="#228b22" stroke-width="1.05"/><path d="M550.7,539.4L555.6,544.3L550.7,549.3L545.8,544.3Z" fill="none" stroke="#228b22" stroke-width="1.05"/><path d="M556.4,539.4L561.3,544.3L556.4,549.3L551.5,544.3Z" fill="none" stroke="#228b22" stroke-width="1.05"/><path d="M562.1,539.4L567.0,544.3L562.1,549.3L557.2,544.3Z" fill="none" stroke="#228b22" stroke-width="1.05"/><path d="M567.8,539.3L572.7,544.3L567.8,549.2L562.9,544.3Z" fill="none" stroke="#228b22" stroke-width="1.05"/><path d="M573.5,539.3L578.4,544.3L573.5,549.2L568.6,544.3Z" fill="none" stroke="#228b22" stroke-width="1.05"/><path d="M579.3,539.3L584.2,544.3L579.3,549.2L574.4,544.3Z" fill="none" stroke="#228b22" stroke-width="1.05"/><path d="M585.0,539.3L589.9,544.3L585.0,549.2L580.1,544.3Z" fill="none" stroke="#228b22" stroke-width="1.05"/><path d="M590.7,539.3L595.6,544.3L590.7,549.2L585.8,544.3Z" fill="none" stroke="#228b22" stroke-width="1.05"/><path d="M596.4,539.3L601.3,544.3L596.4,549.2L591.5,544.3Z" fill="none" stroke="#228b22" stroke-width="1.05"/><path d="M602.1,539.3L607.0,544.3L602.1,549.2L597.2,544.3Z" fill="none" stroke="#228b22" stroke-width="1.05"/><path d="M607.8,539.3L612.7,544.3L607.8,549.2L602.9,544.3Z" fill="none" stroke="#228b22" stroke-width="1.05"/><path d="M613.6,539.3L618.5,544.3L613.6,549.2L608.7,544.3Z" fill="none" stroke="#228b22" stroke-width="1.05"/><path d="M619.3,539.3L624.2,544.3L619.3,549.2L614.4,544.3Z" fill="none" stroke="#228b22" stroke-width="1.05"/></g>
<polyline points="116.3,28.9 122.1,29.0 127.8,29.0 133.5,29.1 139.2,29.2 144.9,29.4 150.6,29.5 156.4,29.7 162.1,29.9 167.8,30.1 173.5,30.3 179.2,30.6 184.9,30.9 190.6,31.3 196.4,31.7 202.1,32.2 207.8,32.8 213.5,33.4 219.2,34.2 224.9,35.0 230.6,35.9 236.4,36.9 242.1,37.9 247.8,39.0 253.5,40.1 259.2,41.2 264.9,42.4 270.7,43.5 276.4,44.6 282.1,45.7 287.8,46.9 293.5,48.1 299.2,49.5 304.9,51.1 310.7,53.0 316.4,55.0 322.1,57.1 327.8,59.4 333.5,62.0 339.2,64.8 344.9,68.0 350.7,71.5 356.4,75.4 362.1,79.4 367.8,83.6 373.5,88.0 379.2,92.8 385.0,98.2 390.7,104.5 396.4,111.8 402.1,119.8 407.8,128.4 413.5,138.0 419.2,148.7 425.0,160.9 430.7,174.8 436.4,190.5 442.1,208.3 447.8,228.3 453.5,250.4 459.2,274.8 465.0,301.2 470.7,329.7 476.4,359.6 482.1,390.0 487.8,419.8 493.5,447.0 499.3,470.9 505.0,491.4 510.7,508.0 516.4,520.6 522.1,529.7 527.8,536.0 533.5,539.8 539.3,541.9 545.0,542.6 550.7,542.6 556.4,542.6 562.1,542.6 567.8,542.6 573.5,542.6 579.3,542.5 585.0,542.5 590.7,542.5 596.4,542.5 602.1,542.5 607.8,542.5 613.6,542.5 619.3,542.5" fill="none" stroke="#0000ff" stroke-width="1.5" stroke-linejoin="round" stroke-linecap="square"/>
<g><path d="M111.5,25.3L121.1,25.3L116.3,34.5Z" fill="none" stroke="#0000ff" stroke-width="1.05"/><path d="M117.3,25.4L126.9,25.4L122.1,34.5Z" fill="none" stroke="#0000ff" stroke-width="1.05"/><path d="M123.0,25.4L132.6,25.4L127.8,34.5Z" fill="none" stroke="#0000ff" stroke-width="1.05"/><path d="M128.7,25.5L138.3,25.5L133.5,34.6Z" fill="none" stroke="#0000ff" stroke-width="1.05"/><path d="M134.4,25.6L144.0,25.6L139.2,34.7Z" fill="none" stroke="#0000ff" stroke-width="1.05"/><path d="M140.1,25.8L149.7,25.8L144.9,34.9Z" fill="none" stroke="#0000ff" stroke-width="1.05"/><path d="M145.8,25.9L155.4,25.9L150.6,35.0Z" fill="none" stroke="#0000ff" stroke-width="1.05"/><path d="M151.6,26.1L161.2,26.1L156.4,35.2Z" fill="none" stroke="#0000ff" stroke-width="1.05"/><path d="M157.3,26.3L166.9,26.3L162.1,35.4Z" fill="none" stroke="#0000ff" stroke-width="1.05"/><path d="M163.0,26.5L172.6,26.5L167.8,35.6Z" fill="none" stroke="#0000ff" stroke-width="1.05"/><path d="M168.7,26.7L178.3,26.7L173.5,35.8Z" fill="none" stroke="#0000ff" stroke-width="1.05"/><path d="M174.4,27.0L184.0,27.0L179.2,36.1Z" fill="none" stroke="#0000ff" stroke-width="1.05"/><path d="M180.1,27.3L189.7,27.3L184.9,36.4Z" fill="none" stroke="#0000ff" stroke-width="1.05"/><path d="M185.8,27.7L195.4,27.7L190.6,36.8Z" fill="none" stroke="#0000ff" stroke-width="1.05"/><path d="M191.6,28.1L201.2,28.1L196.4,37.2Z" fill="none" stroke="#0000ff" stroke-width="1.05"/><path d="M197.3,28.6L206.9,28.6L202.1,37.7Z" fill="none" stroke="#0000ff" stroke-width="1.05"/><path d="M203.0,29.2L212.6,29.2L207.8,38.3Z" fill="none" stroke="#0000ff" stroke-width="1.05"/><path d="M208.7,29.8L218.3,29.8L213.5,38.9Z" fill="none" stroke="#0000ff" stroke-width="1.05"/><path d="M214.4,30.6L224.0,30.6L219.2,39.7Z" fill="none" stroke="#0000ff" stroke-width="1.05"/><path d="M220.1,31.4L229.7,31.4L224.9,40.5Z" fill="none" stroke="#0000ff" stroke-width="1.05"/><path d="M225.8,32.3L235.4,32.3L230.6,41.4Z" fill="none" stroke="#0000ff" stroke-width="1.05"/><path d="M231.6,33.3L241.2,33.3L236.4,42.4Z" fill="none" stroke="#0000ff" stroke-width="1.05"/><path d="M237.3,34.3L246.9,34.3L242.1,43.4Z" fill="none" stroke="#0000ff" stroke-width="1.05"/><path d="M243.0,35.4L252.6,35.4L247.8,44.5Z" fill="none" stroke="#0000ff" stroke-width="1.05"/><path d="M248.7,36.5L258.3,36.5L253.5,45.6Z" fill="none" stroke="#0000ff" stroke-width="1.05"/><path d="M254.4,37.6L264.0,37.6L259.2,46.7Z" fill="none" stroke="#0000ff" stroke-width="1.05"/><path d="M260.1,38.8L269.7,38.8L264.9,47.9Z" fill="none" stroke="#0000ff" stroke-width="1.05"/><path d="M265.9,39.9L275.5,39.9L270.7,49.0Z" fill="none" stroke="#0000ff" stroke-width="1.05"/><path d="M271.6,41.0L281.2,41.0L276.4,50.1Z" fill="none" stroke="#0000ff" stroke-width="1.05"/><path d="M277.3,42.1L286.9,42.1L282.1,51.2Z" fill="none" stroke="#0000ff" stroke-width="1.05"/><path d="M283.0,43.3L292.6,43.3L287.8,52.4Z" fill="none" stroke="#0000ff" stroke-width="1.05"/><path d="M288.7,44.5L298.3,44.5L293.5,53.6Z" fill="none" stroke="#0000ff" stroke-width="1.05"/><path d="M294.4,45.9L304.0,45.9L299.2,55.0Z" fill="none" stroke="#0000ff" stroke-width="1.05"/><path d="M300.1,47.5L309.7,47.5L304.9,56.6Z" fill="none" stroke="#0000ff" stroke-width="1.05"/><path d="M305.9,49.4L315.5,49.4L310.7,58.5Z" fill="none" stroke="#0000ff" stroke-width="1.05"/><path d="M311.6,51.4L321.2,51.4L316.4,60.5Z" fill="none" stroke="#0000ff" stroke-width="1.05"/><path d="M317.3,53.5L326.9,53.5L322.1,62.6Z" fill="none" stroke="#0000ff" stroke-width="1.05"/><path d="M323.0,55.8L332.6,55.8L327.8,64.9Z" fill="none" stroke="#0000ff" stroke-width="1.05"/><path d="M328.7,58.4L338.3,58.4L333.5,67.5Z" fill="none" stroke="#0000ff" stroke-width="1.05"/><path d="M334.4,61.2L344.0,61.2L339.2,70.3Z" fill="none" stroke="#0000ff" stroke-width="1.05"/><path d="M340.1,64.4L349.8,64.4L344.9,73.5Z" fill="none" stroke="#0000ff" stroke-width="1.05"/><path d="M345.9,67.9L355.5,67.9L350.7,77.0Z" fill="none" stroke="#0000ff" stroke-width="1.05"/><path d="M351.6,71.8L361.2,71.8L356.4,80.9Z" fill="none" stroke="#0000ff" stroke-width="1.05"/><path d="M357.3,75.8L366.9,75.8L362.1,84.9Z" fill="none" stroke="#0000ff" stroke-width="1.05"/><path d="M363.0,80.0L372.6,80.0L367.8,89.1Z" fill="none" stroke="#0000ff" stroke-width="1.05"/><path d="M368.7,84.4L378.3,84.4L373.5,93.5Z" fill="none" stroke="#0000ff" stroke-width="1.05"/><path d="M374.4,89.2L384.0,89.2L379.2,98.3Z" fill="none" stroke="#0000ff" stroke-width="1.05"/><path d="M380.2,94.6L389.8,94.6L385.0,103.7Z" fill="none" stroke="#0000ff" stroke-width="1.05"/><path d="M385.9,100.9L395.5,100.9L390.7,110.0Z" fill="none" stroke="#0000ff" stroke-width="1.05"/><path d="M391.6,108.2L401.2,108.2L396.4,117.3Z" fill="none" stroke="#0000ff" stroke-width="1.05"/><path d="M397.3,116.2L406.9,116.2L402.1,125.3Z" fill="none" stroke="#0000ff" stroke-width="1.05"/><path d="M403.0,124.8L412.6,124.8L407.8,133.9Z" fill="none" stroke="#0000ff" stroke-width="1.05"/><path d="M408.7,134.4L418.3,134.4L413.5,143.5Z" fill="none" stroke="#0000ff" stroke-width="1.05"/><path d="M414.4,145.1L424.0,145.1L419.2,154.2Z" fill="none" stroke="#0000ff" stroke-width="1.05"/><path d="M420.2,157.3L429.8,157.3L425.0,166.4Z" fill="none" stroke="#0000ff" stroke-width="1.05"/><path d="M425.9,171.2L435.5,171.2L430.7,180.3Z" fill="none" stroke="#0000ff" stroke-width="1.05"/><path d="M431.6,186.9L441.2,186.9L436.4,196.0Z" fill="none" stroke="#0000ff" stroke-width="1.05"/><path d="M437.3,204.7L446.9,204.7L442.1,213.8Z" fill="none" stroke="#0000ff" stroke-width="1.05"/><path d="M443.0,224.7L452.6,224.7L447.8,233.8Z" fill="none" stroke="#0000ff" stroke-width="1.05"/><path d="M448.7,246.8L458.3,246.8L453.5,255.9Z" fill="none" stroke="#0000ff" stroke-width="1.05"/><path d="M454.4,271.2L464.1,271.2L459.2,280.3Z" fill="none" stroke="#0000ff" stroke-width="1.05"/><path d="M460.2,297.6L469.8,297.6L465.0,306.7Z" fill="none" stroke="#0000ff" stroke-width="1.05"/><path d="M465.9,326.1L475.5,326.1L470.7,335.2Z" fill="none" stroke="#0000ff" stroke-width="1.05"/><path d="M471.6,356.0L481.2,356.0L476.4,365.1Z" fill="none" stroke="#0000ff" stroke-width="1.05"/><path d="M477.3,386.4L486.9,386.4L482.1,395.5Z" fill="none" stroke="#0000ff" stroke-width="1.05"/><path d="M483.0,416.2L492.6,416.2L487.8,425.3Z" fill="none" stroke="#0000ff" stroke-width="1.05"/><path d="M488.7,443.4L498.3,443.4L493.5,452.5Z" fill="none" stroke="#0000ff" stroke-width="1.05"/><path d="M494.5,467.3L504.1,467.3L499.3,476.4Z" fill="none" stroke="#0000ff" stroke-width="1.05"/><path d="M500.2,487.8L509.8,487.8L505.0,496.9Z" fill="none" stroke="#0000ff" stroke-width="1.05"/><path d="M505.9,504.4L515.5,504.4L510.7,513.5Z" fill="none" stroke="#0000ff" stroke-width="1.05"/><path d="M511.6,517.0L521.2,517.0L516.4,526.1Z" fill="none" stroke="#0000ff" stroke-width="1.05"/><path d="M517.3,526.1L526.9,526.1L522.1,535.2Z" fill="none" stroke="#0000ff" stroke-width="1.05"/><path d="M523.0,532.4L532.6,532.4L527.8,541.5Z" fill="none" stroke="#0000ff" stroke-width="1.05"/><path d="M528.7,536.2L538.3,536.2L533.5,545.3Z" fill="none" stroke="#0000ff" stroke-width="1.05"/><path d="M534.5,538.3L544.1,538.3L539.3,547.4Z" fill="none" stroke="#0000ff" stroke-width="1.05"/><path d="M540.2,539.0L549.8,539.0L545.0,548.1Z" fill="none" stroke="#0000ff" stroke-width="1.05"/><path d="M545.9,539.0L555.5,539.0L550.7,548.1Z" fill="none" stroke="#0000ff" stroke-width="1.05"/><path d="M551.6,539.0L561.2,539.0L556.4,548.1Z" fill="none" stroke="#0000ff" stroke-width="1.05"/><path d="M557.3,539.0L566.9,539.0L562.1,548.1Z" fill="none" stroke="#0000ff" stroke-width="1.05"/><path d="M563.0,539.0L572.6,539.0L567.8,548.1Z" fill="none" stroke="#0000ff" stroke-width="1.05"/><path d="M568.8,539.0L578.3,539.0L573.5,548.1Z" fill="none" stroke="#0000ff" stroke-width="1.05"/><path d="M574.5,538.9L584.1,538.9L579.3,548.0Z" fill="none" stroke="#0000ff" stroke-width="1.05"/><path d="M580.2,538.9L589.8,538.9L585.0,548.0Z" fill="none" stroke="#0000ff" stroke-width="1.05"/><path d="M585.9,538.9L595.5,538.9L590.7,548.0Z" fill="none" stroke="#0000ff" stroke-width="1.05"/><path d="M591.6,538.9L601.2,538.9L596.4,548.0Z" fill="none" stroke="#0000ff" stroke-width="1.05"/><path d="M597.3,538.9L606.9,538.9L602.1,548.0Z" fill="none" stroke="#0000ff" stroke-width="1.05"/><path d="M603.0,538.9L612.6,538.9L607.8,548.0Z" fill="none" stroke="#0000ff" stroke-width="1.05"/><path d="M608.8,538.9L618.4,538.9L613.6,548.0Z" fill="none" stroke="#0000ff" stroke-width="1.05"/><path d="M614.5,538.9L624.1,538.9L619.3,548.0Z" fill="none" stroke="#0000ff" stroke-width="1.05"/></g>
<polyline points="116.3,28.9 122.1,29.0 127.8,29.0 133.5,29.1 139.2,29.2 144.9,29.3 150.6,29.4 156.4,29.6 162.1,29.7 167.8,29.9 173.5,30.1 179.2,30.3 184.9,30.6 190.6,30.9 196.4,31.3 202.1,31.7 207.8,32.2 213.5,32.8 219.2,33.5 224.9,34.3 230.6,35.1 236.4,36.0 242.1,36.9 247.8,37.8 253.5,38.7 259.2,39.6 264.9,40.5 270.7,41.5 276.4,42.5 282.1,43.5 287.8,44.6 293.5,45.8 299.2,47.2 304.9,48.9 310.7,50.7 316.4,52.7 322.1,54.8 327.8,57.2 333.5,59.7 339.2,62.6 344.9,65.8 350.7,69.2 356.4,72.9 362.1,76.8 367.8,80.8 373.5,85.0 379.2,89.6 385.0,94.7 390.7,100.5 396.4,107.2 402.1,114.7 407.8,123.2 413.5,132.6 419.2,143.1 425.0,155.1 430.7,168.8 436.4,184.5 442.1,202.3 447.8,222.3 453.5,244.4 459.2,268.7 465.0,295.2 470.7,323.6 476.4,353.5 482.1,384.0 487.8,413.7 493.5,441.5 499.3,466.2 505.0,487.4 510.7,504.7 516.4,518.2 522.1,528.1 527.8,535.0 533.5,539.3 539.3,541.7 545.0,542.6 550.7,542.6 556.4,542.6 562.1,542.6 567.8,542.6 573.5,542.6 579.3,542.5 585.0,542.5 590.7,542.5 596.4,542.5 602.1,542.5 607.8,542.5 613.6,542.5 619.3,542.5" fill="none" stroke="#000000" stroke-width="1.9" stroke-linejoin="round" stroke-linecap="square"/>
<rect x="105.6" y="0.5" width="547.9" height="570.6" fill="none" stroke="#161616" stroke-width="1.4"/>
<path d="M116.3,571.1v-1.9M116.3,0.5v1.9M144.9,571.1v-1.9M144.9,0.5v1.9M173.5,571.1v-2.9M173.5,0.5v2.9M202.1,571.1v-1.9M202.1,0.5v1.9M230.6,571.1v-1.9M230.6,0.5v1.9M259.2,571.1v-1.9M259.2,0.5v1.9M287.8,571.1v-2.9M287.8,0.5v2.9M316.4,571.1v-1.9M316.4,0.5v1.9M344.9,571.1v-1.9M344.9,0.5v1.9M373.5,571.1v-1.9M373.5,0.5v1.9M402.1,571.1v-2.9M402.1,0.5v2.9M430.7,571.1v-1.9M430.7,0.5v1.9M459.2,571.1v-1.9M459.2,0.5v1.9M487.8,571.1v-1.9M487.8,0.5v1.9M516.4,571.1v-2.9M516.4,0.5v2.9M545.0,571.1v-1.9M545.0,0.5v1.9M573.5,571.1v-1.9M573.5,0.5v1.9M602.1,571.1v-1.9M602.1,0.5v1.9M630.7,571.1v-2.9M630.7,0.5v2.9M105.6,563.1h1.9M653.5,563.1h-1.9M105.6,542.6h2.9M653.5,542.6h-2.9M105.6,522.0h1.9M653.5,522.0h-1.9M105.6,501.5h1.9M653.5,501.5h-1.9M105.6,480.9h1.9M653.5,480.9h-1.9M105.6,460.4h1.9M653.5,460.4h-1.9M105.6,439.8h2.9M653.5,439.8h-2.9M105.6,419.3h1.9M653.5,419.3h-1.9M105.6,398.7h1.9M653.5,398.7h-1.9M105.6,378.2h1.9M653.5,378.2h-1.9M105.6,357.7h1.9M653.5,357.7h-1.9M105.6,337.1h2.9M653.5,337.1h-2.9M105.6,316.6h1.9M653.5,316.6h-1.9M105.6,296.0h1.9M653.5,296.0h-1.9M105.6,275.5h1.9M653.5,275.5h-1.9M105.6,254.9h1.9M653.5,254.9h-1.9M105.6,234.4h2.9M653.5,234.4h-2.9M105.6,213.8h1.9M653.5,213.8h-1.9M105.6,193.3h1.9M653.5,193.3h-1.9M105.6,172.8h1.9M653.5,172.8h-1.9M105.6,152.2h1.9M653.5,152.2h-1.9M105.6,131.7h2.9M653.5,131.7h-2.9M105.6,111.1h1.9M653.5,111.1h-1.9M105.6,90.6h1.9M653.5,90.6h-1.9M105.6,70.0h1.9M653.5,70.0h-1.9M105.6,49.5h1.9M653.5,49.5h-1.9M105.6,28.9h2.9M653.5,28.9h-2.9M105.6,8.4h1.9M653.5,8.4h-1.9" stroke="#161616" stroke-width="1.0" fill="none"/>
<text transform="translate(173.50,605.00) scale(1,1.07)" font-size="30" text-anchor="middle">2</text>
<text transform="translate(287.80,605.00) scale(1,1.07)" font-size="30" text-anchor="middle">4</text>
<text transform="translate(402.10,605.00) scale(1,1.07)" font-size="30" text-anchor="middle">6</text>
<text transform="translate(516.40,605.00) scale(1,1.07)" font-size="30" text-anchor="middle">8</text>
<path transform="translate(614.51,605.00) scale(30,32.100)" d="M0.383,0L0.383,-0.700L0.318,-0.700C0.292,-0.610 0.215,-0.545 0.112,-0.512L0.112,-0.440C0.180,-0.458 0.248,-0.492 0.290,-0.535L0.290,0Z" fill="#000"/>
<text transform="translate(631.20,605.00) scale(1,1.07)" font-size="30" text-anchor="start">0</text>
<text transform="translate(99.70,39.85) scale(1,1.07)" font-size="30" text-anchor="end">0.0</text>
<text transform="translate(83.21,142.57) scale(1,1.07)" font-size="30" text-anchor="end"><tspan dy="1.6">−</tspan><tspan dy="-1.6">0.</tspan></text>
<path transform="translate(83.21,142.57) scale(30,32.100)" d="M0.383,0L0.383,-0.700L0.318,-0.700C0.292,-0.610 0.215,-0.545 0.112,-0.512L0.112,-0.440C0.180,-0.458 0.248,-0.492 0.290,-0.535L0.290,0Z" fill="#000"/>
<text transform="translate(99.70,245.29) scale(1,1.07)" font-size="30" text-anchor="end"><tspan dy="1.6">−</tspan><tspan dy="-1.6">0.2</tspan></text>
<text transform="translate(99.70,348.01) scale(1,1.07)" font-size="30" text-anchor="end"><tspan dy="1.6">−</tspan><tspan dy="-1.6">0.3</tspan></text>
<text transform="translate(99.70,450.73) scale(1,1.07)" font-size="30" text-anchor="end"><tspan dy="1.6">−</tspan><tspan dy="-1.6">0.4</tspan></text>
<text transform="translate(99.70,553.45) scale(1,1.07)" font-size="30" text-anchor="end"><tspan dy="1.6">−</tspan><tspan dy="-1.6">0.5</tspan></text>
<text transform="translate(366.40,646.60) scale(1,1.0)" font-size="29.5" text-anchor="start" font-style="italic">λ</text>
<path transform="translate(380.80,652.10) scale(21.0,21.420)" d="M0.383,0L0.383,-0.700L0.318,-0.700C0.292,-0.610 0.215,-0.545 0.112,-0.512L0.112,-0.440C0.180,-0.458 0.248,-0.492 0.290,-0.535L0.290,0Z" fill="#000"/>
<g transform="translate(25.9,301.95) rotate(-90)"><text x="0" y="0" font-size="30.6" font-style="italic">A</text><text x="19.1" y="5.9" font-size="21.5">3</text></g>
<path d="M163.9,195.35h40.8" stroke="#ff0000" stroke-width="2.7" fill="none"/>

<text x="221.45" y="203.7" font-size="26.8"><tspan font-style="italic">γ</tspan><tspan dx="0.7" dy="2.4">=</tspan></text>
<path transform="translate(251.20,203.65) scale(26.8,26.800)" d="M0.383,0L0.383,-0.700L0.318,-0.700C0.292,-0.610 0.215,-0.545 0.112,-0.512L0.112,-0.440C0.180,-0.458 0.248,-0.492 0.290,-0.535L0.290,0Z" fill="#000"/>
<path d="M138.2,241.01h40.8" stroke="#800080" stroke-width="1.8" fill="none"/>
<path d="M153.0,248.6L158.6,237.1L164.2,248.6Z" fill="#800080"/>
<text x="194.25" y="249.3" font-size="26.8"><tspan font-style="italic">γ</tspan><tspan dx="0.7" dy="2.4">=</tspan><tspan dy="-2.4">0.999</tspan></text>
<path d="M145.8,286.67h40.8" stroke="#8000ff" stroke-width="1.8" fill="none"/>
<path d="M160.5,282.7L171.9,282.7L166.2,293.9Z" fill="#8000ff"/>
<text x="201.25" y="295.0" font-size="26.8"><tspan font-style="italic">γ</tspan><tspan dx="0.7" dy="2.4">=</tspan><tspan dy="-2.4">0.99</tspan></text>
<path d="M145.8,332.33h40.8" stroke="#0080ff" stroke-width="1.8" fill="none"/>
<path d="M166.2,327.5L173.0,333.7L166.2,340.2L159.4,333.7Z" fill="#0080ff"/>
<text x="201.25" y="340.6" font-size="26.8"><tspan font-style="italic">γ</tspan><tspan dx="0.7" dy="2.4">=</tspan><tspan dy="-2.4">0.95</tspan></text>
<path d="M153.5,377.99h40.8" stroke="#1f8aff" stroke-width="1.8" fill="none"/>
<path d="M169.3,384.9L173.9,375.6L178.5,384.9Z" fill="none" stroke="#1f8aff" stroke-width="1.05"/>
<text x="209.05" y="386.3" font-size="26.8"><tspan font-style="italic">γ</tspan><tspan dx="0.7" dy="2.4">=</tspan><tspan dy="-2.4">0.9</tspan></text>
<path d="M153.5,423.65h40.8" stroke="#228b22" stroke-width="1.8" fill="none"/>
<path d="M173.9,420.4L178.8,425.4L173.9,430.3L169.0,425.4Z" fill="none" stroke="#228b22" stroke-width="1.05"/>
<text x="209.05" y="431.9" font-size="26.8"><tspan font-style="italic">γ</tspan><tspan dx="0.7" dy="2.4">=</tspan><tspan dy="-2.4">0.7</tspan></text>
<path d="M163.9,469.31h40.8" stroke="#0000ff" stroke-width="1.8" fill="none"/>
<path d="M179.5,465.7L189.1,465.7L184.3,474.8Z" fill="none" stroke="#0000ff" stroke-width="1.05"/>
<text x="219.65" y="477.6" font-size="26.8"><tspan font-style="italic">γ</tspan><tspan dx="0.7" dy="2.4">=</tspan><tspan dy="-2.4">0</tspan></text>
<path d="M146.0,514.97h40.8" stroke="#000000" stroke-width="2.3" fill="none"/>

<text x="201.25" y="523.3" font-size="26.8"><tspan font-style="italic">γ</tspan><tspan dx="0.7" dy="2.4">=</tspan><tspan dy="-1.4">−</tspan><tspan dy="-1">0.5</tspan></text>
</svg></body></html>
